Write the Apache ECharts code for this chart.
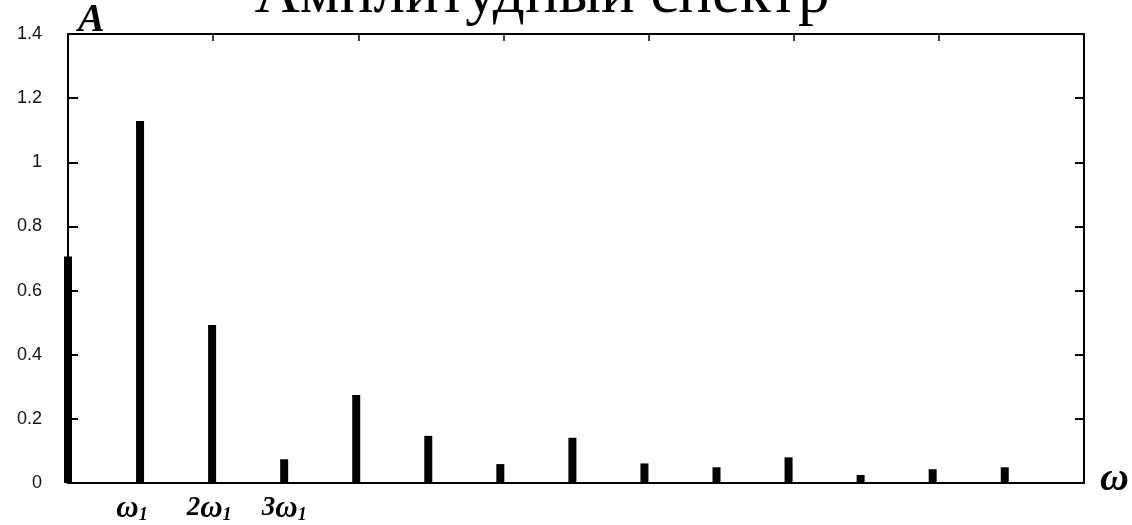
<!DOCTYPE html>
<html>
<head>
<meta charset="utf-8">
<script src="https://cdn.jsdelivr.net/npm/echarts@6/dist/echarts.min.js"></script>
<style>
  html, body { margin: 0; padding: 0; background: #fff; }
  #chart { width: 1132px; height: 525px; }
</style>
</head>
<body>
<div id="chart"></div>
<script>
// Harmonic number k (frequency k·ω1) and the amplitude of each harmonic
const harmonics = [0, 1, 2, 3, 4, 5, 6, 7, 8, 9, 10, 11, 12, 13];
const amplitudes = [0.706, 1.129, 0.493, 0.074, 0.274, 0.147, 0.059, 0.141, 0.061, 0.049, 0.080, 0.025, 0.043, 0.049];

// Harmonics that get a frequency label under the axis
const labeledHarmonics = [1, 2, 3];

const titleText = 'Амплитудный спектр';
const yAxisName = 'A';
const xAxisName = 'ω';

const serif = '"Liberation Serif", "DejaVu Serif", serif';

const chart = echarts.init(document.getElementById('chart'), null, { renderer: 'canvas' });

const frameLine = { show: true, onZero: false, lineStyle: { color: '#000', width: 2 } };

const symbolFont = { fontFamily: serif, fontStyle: 'italic', fontWeight: 'bold', color: '#000' };

chart.setOption({
  animation: false,
  backgroundColor: '#fff',
  grid: { left: 68, right: 48, top: 34, bottom: 42, containLabel: false },
  xAxis: [
    {
      type: 'value',
      position: 'bottom',
      min: 0,
      max: 14.1,
      axisLine: frameLine,
      axisTick: { show: false },
      splitLine: { show: false },
      axisLabel: {
        customValues: labeledHarmonics,
        margin: 10,
        formatter: function (v) {
          // "ω1", "2ω1", "3ω1" with an italic subscript; the first label sits a little left of its bar
          if (v === 1) return '{w|ω}{s1|1}';
          if (v === 2) return '{n|2}{w|ω}{s2|1}';
          return '{n|' + v + '}{w|ω}{s|1}';
        },
        rich: {
          n: Object.assign({ fontSize: 27 }, symbolFont),
          w: Object.assign({ fontSize: 31 }, symbolFont),
          s: Object.assign({ fontSize: 18, verticalAlign: 'bottom', padding: [9, 0, 0, 0] }, symbolFont),
          s1: Object.assign({ fontSize: 18, verticalAlign: 'bottom', padding: [9, 16, 0, 0] }, symbolFont),
          s2: Object.assign({ fontSize: 18, verticalAlign: 'bottom', padding: [9, 6, 0, 0] }, symbolFont)
        }
      }
    },
    {
      type: 'value',
      position: 'top',
      min: 0,
      max: 7,
      interval: 1,
      axisLine: frameLine,
      axisTick: { show: true, inside: true, length: 7, lineStyle: { color: '#000', width: 1.5 } },
      axisLabel: { show: false },
      splitLine: { show: false }
    }
  ],
  yAxis: [
    {
      type: 'value',
      position: 'left',
      min: 0,
      max: 1.4,
      interval: 0.2,
      axisLine: frameLine,
      axisTick: { show: true, inside: true, length: 10, lineStyle: { color: '#000', width: 2 } },
      axisLabel: { margin: 26, color: '#111', fontFamily: '"Liberation Sans", Arial, sans-serif', fontSize: 18 },
      splitLine: { show: false }
    },
    {
      type: 'value',
      position: 'right',
      min: 0,
      max: 1.4,
      interval: 0.2,
      axisLine: frameLine,
      axisTick: { show: true, inside: true, length: 9, lineStyle: { color: '#000', width: 2 } },
      axisLabel: { show: false },
      splitLine: { show: false }
    }
  ],
  series: [
    {
      type: 'bar',
      xAxisIndex: 0,
      yAxisIndex: 0,
      barWidth: 8,
      clip: false,
      silent: true,
      itemStyle: { color: '#000' },
      data: harmonics.map(function (k, i) { return [k, amplitudes[i]]; })
    }
  ],
  graphic: [
    {
      type: 'text',
      silent: true,
      style: {
        text: titleText,
        x: 542,
        y: -5,
        align: 'center',
        verticalAlign: 'middle',
        font: '63px ' + serif,
        fill: '#000'
      }
    },
    {
      type: 'text',
      silent: true,
      style: {
        text: yAxisName,
        x: 78,
        y: 21,
        align: 'left',
        verticalAlign: 'middle',
        font: 'italic bold 40px ' + serif,
        fill: '#000'
      }
    },
    {
      type: 'text',
      silent: true,
      style: {
        text: xAxisName,
        x: 1100,
        y: 480,
        align: 'left',
        verticalAlign: 'middle',
        font: 'italic bold 40px ' + serif,
        fill: '#000'
      }
    }
  ]
});
</script>
</body>
</html>
